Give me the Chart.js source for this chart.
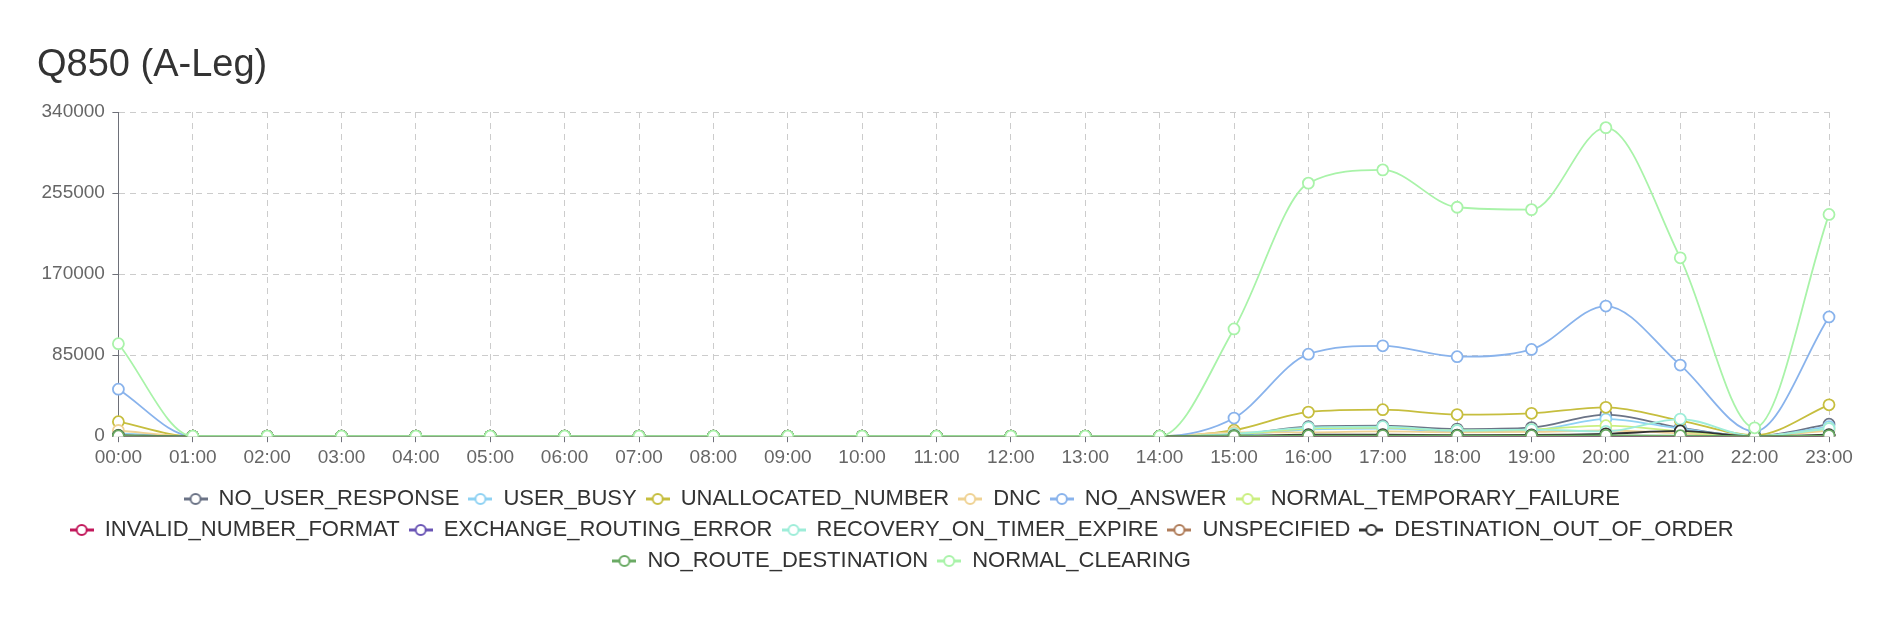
<!DOCTYPE html>
<html>
<head>
<meta charset="utf-8">
<script src="https://cdn.jsdelivr.net/npm/chart.js@4/dist/chart.umd.min.js"></script>
<style>
  html, body { margin: 0; padding: 0; background: #fff; }
  #wrap { width: 1884px; height: 620px; position: relative; }
</style>
</head>
<body>
<div id="wrap"><canvas id="myChart"></canvas></div>
<script>
// hours on the x axis
const hours = ['00:00', '01:00', '02:00', '03:00', '04:00', '05:00', '06:00', '07:00',
    '08:00', '09:00', '10:00', '11:00', '12:00', '13:00', '14:00', '15:00',
    '16:00', '17:00', '18:00', '19:00', '20:00', '21:00', '22:00', '23:00'];

const seriesNames = ['NO_USER_RESPONSE', 'USER_BUSY', 'UNALLOCATED_NUMBER', 'DNC', 'NO_ANSWER',
    'NORMAL_TEMPORARY_FAILURE', 'INVALID_NUMBER_FORMAT', 'EXCHANGE_ROUTING_ERROR',
    'RECOVERY_ON_TIMER_EXPIRE', 'UNSPECIFIED', 'DESTINATION_OUT_OF_ORDER',
    'NO_ROUTE_DESTINATION', 'NORMAL_CLEARING'];

const seriesColors = ['#6b7386', '#8fd2f3', '#c6be3e', '#efd293', '#89b3ec',
    '#cbef80', '#c2185b', '#6a55b5', '#9eedd9', '#b07d5a', '#333333',
    '#6aaa64', '#a9f3a9'];

// values, one per hour
const noUserResponse = [2000, 0, 0, 0, 0, 0, 0, 0, 0, 0, 0, 0, 0, 0, 0, 1500, 10000, 11000, 7500, 9000, 22700, 9000, 0, 12600];
const userBusy = [3000, 0, 0, 0, 0, 0, 0, 0, 0, 0, 0, 0, 0, 0, 0, 1000, 7000, 8000, 5000, 6000, 18000, 8000, 0, 10000];
const unallocatedNumber = [15200, 0, 0, 0, 0, 0, 0, 0, 0, 0, 0, 0, 0, 0, 0, 6300, 25300, 27800, 22700, 24000, 30300, 16400, 1000, 32900];
const dnc = [6000, 0, 0, 0, 0, 0, 0, 0, 0, 0, 0, 0, 0, 0, 0, 4000, 4000, 5000, 4000, 4500, 6000, 3000, 0, 6000];
const noAnswer = [49300, 0, 0, 0, 0, 0, 0, 0, 0, 0, 0, 0, 0, 0, 0, 19000, 86000, 94800, 83400, 91000, 136500, 74600, 5000, 125100];
const normalTemporaryFailure = [1000, 0, 0, 0, 0, 0, 0, 0, 0, 0, 0, 0, 0, 0, 0, 2000, 8000, 9000, 6000, 7000, 11000, 5000, 0, 8000];
const invalidNumberFormat = [0, 0, 0, 0, 0, 0, 0, 0, 0, 0, 0, 0, 0, 0, 0, 0, 200, 200, 100, 100, 300, 100, 0, 200];
const exchangeRoutingError = [0, 0, 0, 0, 0, 0, 0, 0, 0, 0, 0, 0, 0, 0, 0, 0, 300, 300, 200, 200, 400, 200, 0, 300];
const recoveryOnTimerExpire = [500, 0, 0, 0, 0, 0, 0, 0, 0, 0, 0, 0, 0, 0, 0, 2500, 9000, 10000, 6000, 7000, 5000, 18000, 0, 8000];
const unspecified = [0, 0, 0, 0, 0, 0, 0, 0, 0, 0, 0, 0, 0, 0, 0, 100, 400, 400, 300, 300, 600, 300, 0, 400];
const destinationOutOfOrder = [800, 0, 0, 0, 0, 0, 0, 0, 0, 0, 0, 0, 0, 0, 0, 500, 1500, 1500, 1200, 1300, 2500, 5500, 0, 1500];
const noRouteDestination = [300, 0, 0, 0, 0, 0, 0, 0, 0, 0, 0, 0, 0, 0, 0, 200, 600, 700, 500, 500, 900, 600, 0, 700];
const normalClearing = [97000, 0, 0, 0, 0, 0, 0, 0, 0, 0, 0, 0, 0, 0, 0, 112500, 265400, 279300, 240100, 237600, 323600, 187100, 8800, 232600];

const seriesValues = [noUserResponse, userBusy, unallocatedNumber, dnc, noAnswer,
    normalTemporaryFailure, invalidNumberFormat, exchangeRoutingError,
    recoveryOnTimerExpire, unspecified, destinationOutOfOrder,
    noRouteDestination, normalClearing];

Chart.defaults.font.family = '"Liberation Sans", Arial, Helvetica, sans-serif';

// legend marker: short line with a hollow circle
function legendIcon(color) {
    const c = document.createElement('canvas');
    c.width = 24;
    c.height = 16;
    const g = c.getContext('2d');
    g.strokeStyle = color;
    g.lineWidth = 3;
    g.beginPath();
    g.moveTo(0, 8);
    g.lineTo(24, 8);
    g.stroke();
    g.beginPath();
    g.arc(12, 8, 5, 0, Math.PI * 2);
    g.fillStyle = '#fff';
    g.fill();
    g.lineWidth = 2;
    g.stroke();
    return c;
}

// move the legend block a bit left, like the original
const legendShift = {
    id: 'legendShift',
    afterLayout(chart) {
        const lg = chart.legend;
        if (!lg) return;
        lg.left -= 72;
        lg.right -= 72;
    }
};

const datasets = seriesNames.map((name, i) => ({
    label: name,
    data: seriesValues[i],
    borderColor: seriesColors[i],
    backgroundColor: '#fff',
    pointBackgroundColor: '#fff',
    pointBorderColor: seriesColors[i],
    pointRadius: 5.5,
    pointBorderWidth: 1.8,
    borderWidth: 1.8,
    cubicInterpolationMode: 'monotone',
    fill: false,
    pointStyle: 'circle',
    legendIcon: legendIcon(seriesColors[i]),
    // later series drawn on top
    order: seriesNames.length - 1 - i
}));

(function() {
    const ctx = document.querySelector('#myChart');
    new Chart(ctx, {
        type: 'line',
        data: { labels: hours, datasets },
        plugins: [legendShift],
        options: {
            responsive: true,
            maintainAspectRatio: false,
            animation: false,
            layout: {
                padding: { left: 37, right: 55, top: 0, bottom: 38 }
            },
            plugins: {
                title: {
                    display: true,
                    text: 'Q850 (A-Leg)',
                    align: 'start',
                    color: '#333',
                    font: { size: 38, weight: 'normal' },
                    padding: { top: 43, bottom: 23.4 }
                },
                legend: {
                    position: 'bottom',
                    fullSize: false,
                    labels: {
                        color: '#333',
                        font: { size: 22 },
                        usePointStyle: true,
                        pointStyleWidth: 24,
                        padding: 9,
                        sort: (a, b) => a.datasetIndex - b.datasetIndex,
                        generateLabels(chart) {
                            const items = Chart.defaults.plugins.legend.labels.generateLabels(chart);
                            items.forEach(it => {
                                it.pointStyle = chart.data.datasets[it.datasetIndex].legendIcon;
                            });
                            return items;
                        }
                    }
                },
                tooltip: { enabled: false }
            },
            scales: {
                x: {
                    offset: false,
                    afterFit(scale) { scale.height += 6; },
                    grid: {
                        color: '#cccccc',
                        tickColor: '#6e7079',
                        tickLength: 6
                    },
                    border: { color: '#6e7079', dash: [6, 5] },
                    ticks: {
                        color: '#666',
                        font: { size: 19 },
                        padding: 4,
                        autoSkip: false,
                        maxRotation: 0
                    }
                },
                y: {
                    min: 0,
                    max: 340000,
                    afterFit(scale) { scale.width -= 3; },
                    grid: {
                        color: '#cccccc',
                        tickColor: '#6e7079',
                        tickLength: 6
                    },
                    border: { color: '#6e7079', dash: [6, 5] },
                    ticks: {
                        stepSize: 85000,
                        color: '#666',
                        font: { size: 19 },
                        padding: 7.5,
                        callback: v => String(v)
                    }
                }
            }
        }
    });
})();
</script>
</body>
</html>
